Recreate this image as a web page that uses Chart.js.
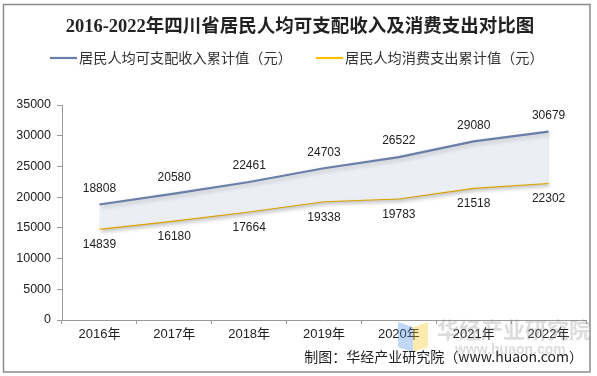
<!DOCTYPE html>
<html>
<head>
<meta charset="utf-8">
<script src="https://cdn.jsdelivr.net/npm/chart.js@4/dist/chart.umd.min.js"></script>
<style>
html,body{margin:0;padding:0;background:#fff;}
#wrap{width:597px;height:376px;position:relative;}
</style>
</head>
<body>
<div id="wrap"><canvas id="c" width="597" height="376"></canvas></div>
<script>
const titleText = '2016-2022年四川省居民人均可支配收入及消费支出对比图';
const categories = ['2016年','2017年','2018年','2019年','2020年','2021年','2022年'];
const incomeName = '居民人均可支配收入累计值（元）';
const consumeName = '居民人均消费支出累计值（元）';
const incomeValues = [18808, 20580, 22461, 24703, 26522, 29080, 30679];
const consumeValues = [14839, 16180, 17664, 19338, 19783, 21518, 22302];
const yTicks = [0, 5000, 10000, 15000, 20000, 25000, 30000, 35000];
const footerText = '制图：华经产业研究院（www.huaon.com）';

const INCOME_COLOR = '#6b7ea8';
const CONSUME_COLOR = '#ffc000';
const CJK = "'Noto Sans CJK SC', 'Liberation Sans', sans-serif";
const LAT = "'Liberation Sans', 'Noto Sans CJK SC', sans-serif";

const decor = {
  id: 'decor',
  beforeDraw(chart) {
    const ctx = chart.ctx;
    ctx.save();
    ctx.fillStyle = '#fff';
    ctx.fillRect(0, 0, chart.width, chart.height);
    ctx.restore();
  },
  beforeDatasetsDraw(chart) {
    const ctx = chart.ctx;
    ctx.save();
    ctx.shadowColor = 'rgba(0,0,0,0.22)';
    ctx.shadowBlur = 4;
    ctx.shadowOffsetX = 2;
    ctx.shadowOffsetY = 2;
  },
  afterDatasetsDraw(chart) {
    chart.ctx.restore();
  },
  afterDraw(chart) {
    const ctx = chart.ctx;
    ctx.save();
    // border
    ctx.strokeStyle = '#8c8c8c';
    ctx.lineWidth = 1.5;
    ctx.strokeRect(3.5, 4.5, 586.5, 367.5);
    // title
    ctx.fillStyle = '#222';
    ctx.textAlign = 'center';
    ctx.textBaseline = 'middle';
    ctx.font = "bold 18.5px 'Liberation Serif', 'Noto Sans CJK SC', serif";
    ctx.fillText(titleText, 300, 27);
    // legend
    ctx.font = '14.2px ' + CJK;
    ctx.textAlign = 'left';
    ctx.lineWidth = 2.2;
    ctx.strokeStyle = INCOME_COLOR;
    ctx.beginPath(); ctx.moveTo(50, 58); ctx.lineTo(77, 58); ctx.stroke();
    ctx.fillStyle = '#333';
    ctx.fillText(incomeName, 79, 58);
    ctx.strokeStyle = CONSUME_COLOR;
    ctx.beginPath(); ctx.moveTo(316, 58); ctx.lineTo(343, 58); ctx.stroke();
    ctx.fillText(consumeName, 345, 58);
    // data labels
    ctx.font = '12px ' + LAT;
    ctx.textAlign = 'center';
    ctx.fillStyle = '#222';
    const m0 = chart.getDatasetMeta(0).data;
    const m1 = chart.getDatasetMeta(1).data;
    m0.forEach((p, i) => ctx.fillText(String(incomeValues[i]), p.x, p.y - 16));
    m1.forEach((p, i) => ctx.fillText(String(consumeValues[i]), p.x, p.y + 16));
    // watermark
    ctx.globalAlpha = 0.35;
    ctx.fillStyle = '#4a90e2';
    ctx.beginPath(); ctx.moveTo(398, 322); ctx.lineTo(413, 327); ctx.lineTo(413, 352); ctx.lineTo(398, 347); ctx.closePath(); ctx.fill();
    ctx.fillStyle = '#f5c518';
    ctx.beginPath(); ctx.moveTo(413, 327); ctx.lineTo(428, 322); ctx.lineTo(428, 347); ctx.lineTo(413, 352); ctx.closePath(); ctx.fill();
    ctx.globalAlpha = 0.3;
    ctx.fillStyle = '#8a8a8a';
    ctx.font = "bold 22px 'Noto Sans CJK SC', sans-serif";
    ctx.textAlign = 'left';
    ctx.fillText('华经产业研究院', 437, 330);
    ctx.font = "bold 14px 'Liberation Sans', sans-serif";
    ctx.fillText('www.huaon.com', 455, 350);
    ctx.globalAlpha = 1;
    // footer
    ctx.fillStyle = '#222';
    ctx.font = '14px ' + CJK;
    ctx.textAlign = 'right';
    ctx.fillText(footerText, 583, 357);
    ctx.restore();
  }
};

new Chart(document.getElementById('c'), {
  type: 'line',
  data: {
    labels: categories,
    datasets: [
      {
        label: incomeName,
        data: incomeValues,
        borderColor: INCOME_COLOR,
        borderWidth: 2.2,
        pointRadius: 0,
        tension: 0,
        fill: '+1',
        backgroundColor: 'rgba(236,239,246,0.95)'
      },
      {
        label: consumeName,
        data: consumeValues,
        borderColor: CONSUME_COLOR,
        borderWidth: 2.2,
        pointRadius: 0,
        tension: 0,
        fill: false
      }
    ]
  },
  options: {
    responsive: false,
    animation: false,
    devicePixelRatio: 1,
    layout: { padding: { left: 0, right: 11, top: 105, bottom: 0 } },
    plugins: { legend: { display: false }, title: { display: false }, tooltip: { enabled: false } },
    scales: {
      x: {
        offset: true,
        afterFit(s) { s.height = 56; },
        grid: { offset: true, drawOnChartArea: false, drawTicks: true, tickLength: 4, color: '#999' },
        border: { display: true, color: '#999', width: 1 },
        ticks: { color: '#222', font: { size: 13, family: LAT }, padding: 3, maxRotation: 0 }
      },
      y: {
        min: 0,
        max: 35000,
        afterFit(s) { s.width = 62; },
        afterBuildTicks(s) { s.ticks = yTicks.map(v => ({ value: v })); },
        grid: { drawOnChartArea: false, drawTicks: true, tickLength: 5, color: '#999' },
        border: { display: true, color: '#999', width: 1 },
        ticks: { color: '#222', font: { size: 12.5, family: LAT }, padding: 6, callback: v => String(v) }
      }
    }
  },
  plugins: [decor]
});
</script>
</body>
</html>
